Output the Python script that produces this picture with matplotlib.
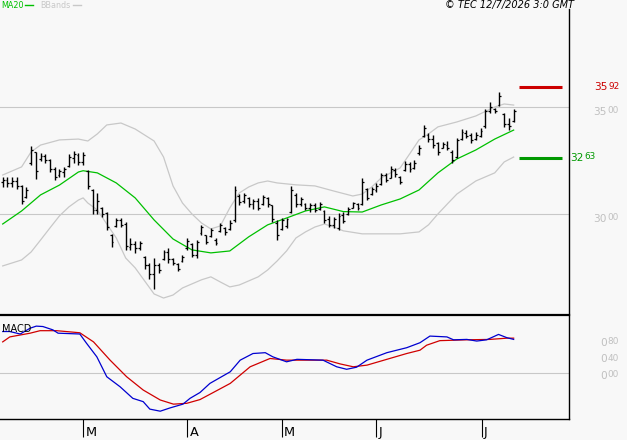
import matplotlib
matplotlib.use('Agg')
import matplotlib.pyplot as plt
from matplotlib.lines import Line2D
import numpy as np

# daily OHLC bars
high = [3174, 3174, 3173, 3173, 3136, 3126, 3318, 3290, 3285, 3280,
        3257, 3220, 3210, 3220, 3280, 3294, 3285, 3290, 3206, 3117,
        3098, 3033, 3009, 2907, 2981, 2981, 2963, 2888, 2875, 2874,
        2804, 2771, 2794, 2771, 2832, 2841, 2794, 2771, 2808, 2888,
        2864, 2879, 2949, 2902, 2935, 2888, 2958, 2939, 2972, 3131,
        3093, 3098, 3079, 3070, 3075, 3089, 3079, 3042, 2972, 2981,
        2981, 3131, 3098, 3079, 3051, 3051, 3051, 3056, 3019, 2991,
        2986, 3005, 3009, 3033, 3056, 3051, 3168, 3121, 3126, 3145,
        3192, 3192, 3224, 3215, 3178, 3248, 3243, 3252, 3322, 3416,
        3378, 3369, 3336, 3336, 3341, 3299, 3355, 3397, 3393, 3378,
        3383, 3402, 3491, 3523, 3495, 3570, 3472, 3449, 3491]
low = [3128, 3128, 3126, 3117, 3047, 3075, 3229, 3164, 3248, 3238,
       3196, 3159, 3173, 3173, 3220, 3238, 3229, 3229, 3117, 3000,
       3000, 2986, 2925, 2846, 2939, 2939, 2832, 2832, 2818, 2832,
       2743, 2696, 2650, 2724, 2785, 2771, 2762, 2734, 2776, 2832,
       2799, 2794, 2902, 2860, 2893, 2855, 2916, 2902, 2925, 2963,
       3042, 3051, 3033, 3023, 3019, 3042, 3033, 2963, 2879, 2925,
       2935, 3005, 3033, 3037, 3019, 3009, 3009, 3019, 2958, 2939,
       2935, 2925, 2958, 2995, 3028, 3019, 3042, 3065, 3089, 3103,
       3135, 3150, 3168, 3173, 3140, 3201, 3196, 3210, 3276, 3360,
       3336, 3308, 3276, 3308, 3299, 3238, 3262, 3346, 3355, 3332,
       3346, 3360, 3402, 3472, 3472, 3505, 3407, 3393, 3430]
opn = [3150, 3160, 3145, 3155, 3130, 3080, 3240, 3290, 3255, 3270,
       3250, 3210, 3180, 3195, 3225, 3260, 3275, 3245, 3200, 3110,
       3020, 3030, 3005, 2900, 2945, 2970, 2955, 2845, 2860, 2840,
       2800, 2760, 2720, 2760, 2790, 2820, 2790, 2765, 2780, 2840,
       2860, 2810, 2910, 2900, 2895, 2880, 2920, 2935, 2930, 2970,
       3085, 3060, 3075, 3045, 3060, 3045, 3075, 3040, 2960, 2930,
       2945, 3010, 3090, 3045, 3045, 3030, 3040, 3025, 3015, 2975,
       2950, 2935, 2995, 3000, 3030, 3045, 3045, 3115, 3095, 3110,
       3140, 3180, 3170, 3205, 3175, 3205, 3235, 3215, 3285, 3365,
       3370, 3350, 3330, 3310, 3320, 3290, 3265, 3350, 3380, 3370,
       3350, 3365, 3410, 3480, 3490, 3510, 3465, 3420, 3435]
close = [3160, 3145, 3155, 3130, 3060, 3110, 3300, 3200, 3270, 3250,
         3210, 3175, 3200, 3210, 3265, 3280, 3245, 3275, 3130, 3020,
         3060, 3000, 2940, 2870, 2970, 2950, 2850, 2860, 2840, 2865,
         2760, 2720, 2760, 2740, 2820, 2790, 2770, 2745, 2800, 2875,
         2810, 2870, 2940, 2870, 2925, 2865, 2950, 2915, 2960, 3110,
         3055, 3090, 3045, 3060, 3030, 3080, 3045, 2975, 2900, 2970,
         2975, 3110, 3045, 3070, 3030, 3040, 3020, 3045, 2970, 2950,
         2975, 2990, 2965, 3025, 3050, 3030, 3150, 3075, 3115, 3130,
         3180, 3160, 3210, 3185, 3150, 3235, 3210, 3240, 3310, 3400,
         3350, 3320, 3290, 3325, 3310, 3250, 3345, 3385, 3365, 3345,
         3370, 3390, 3480, 3500, 3480, 3550, 3420, 3410, 3480]

# moving average 20 and bollinger bands (bar index, value)
ma_idx = [0, 4, 8, 12, 16, 17, 20, 24, 28, 32, 36, 40, 44, 48, 52, 56, 60, 64,
          68, 72, 76, 80, 84, 88, 92, 96, 100, 104, 108]
ma20 = [2953, 3014, 3089, 3135, 3196, 3202, 3192, 3145, 3075, 2972, 2883, 2832,
        2818, 2827, 2893, 2949, 2981, 3014, 3033, 3011, 3009, 3042, 3070, 3112,
        3192, 3257, 3299, 3350, 3392]
bb_up_idx = [0, 4, 6, 8, 12, 16, 18, 20, 22, 25, 28, 32, 34, 36, 38, 40, 42, 44,
             46, 48, 50, 52, 54, 56, 58, 62, 66, 70, 74, 76, 78, 80, 82, 84, 86,
             88, 90, 92, 96, 100, 104, 106, 108]
bb_up = [3182, 3220, 3290, 3322, 3346, 3350, 3341, 3374, 3416, 3425, 3397, 3341,
         3266, 3131, 3051, 3000, 2958, 2930, 2944, 3028, 3098, 3126, 3145, 3154,
         3145, 3136, 3131, 3107, 3084, 3093, 3126, 3168, 3192, 3215, 3280, 3346,
         3374, 3407, 3430, 3458, 3500, 3514, 3509]
bb_lo_idx = [0, 4, 6, 8, 10, 12, 14, 16, 17, 18, 20, 22, 24, 26, 28, 30, 32, 34,
             36, 38, 42, 44, 46, 48, 50, 52, 54, 56, 58, 60, 62, 64, 66, 68, 70,
             72, 76, 80, 84, 88, 90, 92, 94, 96, 100, 104, 106, 108]
bb_lo = [2757, 2785, 2822, 2878, 2935, 2991, 3033, 3065, 3075, 3051, 3019, 2953,
         2888, 2794, 2748, 2687, 2626, 2607, 2621, 2654, 2692, 2706, 2682, 2659,
         2668, 2687, 2706, 2738, 2780, 2827, 2888, 2916, 2939, 2953, 2939, 2921,
         2907, 2907, 2907, 2916, 2949, 3000, 3047, 3093, 3154, 3192, 3243, 3266]

# MACD and signal
macd_idx = [0, 1.5, 3.7, 5.8, 7.1, 8.5, 10.6, 11.7, 16.3, 17.7, 19.9, 22, 24.8,
            27.5, 29.7, 31.1, 33.3, 35.4, 38.1, 39.6, 41.7, 43.8, 48.1, 50.2,
            52.9, 55.5, 57.1, 60, 62.2, 67.7, 70.6, 72.7, 74.8, 77, 81.2, 85.4,
            88.2, 90.3, 93.9, 95.3, 98.1, 100.2, 102.3, 104.8, 106.6, 108]
macd = [1.00, 1.00, 0.94, 1.08, 1.13, 1.12, 1.04, 0.96, 0.94, 0.72, 0.39, -0.09,
        -0.33, -0.61, -0.69, -0.87, -0.92, -0.84, -0.75, -0.61, -0.47, -0.25,
        0.03, 0.31, 0.47, 0.49, 0.39, 0.27, 0.33, 0.31, 0.15, 0.09, 0.14, 0.31,
        0.49, 0.61, 0.73, 0.89, 0.87, 0.80, 0.81, 0.77, 0.80, 0.93, 0.85, 0.81]
sig_idx = [0, 1.5, 5.8, 7.9, 11.4, 16.3, 19.2, 22.7, 26.2, 29.7, 33.3, 36.1,
           38.9, 41.7, 44.5, 48.1, 52.3, 56.5, 60, 68.5, 71.3, 74.1, 77, 81.2,
           85.4, 88.2, 89.6, 92.4, 98.1, 103, 106.6, 108]
signal = [0.75, 0.87, 0.96, 1.02, 1.02, 0.97, 0.75, 0.31, -0.09, -0.41, -0.65,
          -0.75, -0.73, -0.64, -0.47, -0.25, 0.15, 0.35, 0.31, 0.31, 0.22, 0.15,
          0.19, 0.33, 0.47, 0.55, 0.67, 0.78, 0.80, 0.81, 0.84, 0.84]

month_pos = [17, 39, 59, 79, 101.3]
month_lbl = ['M', 'A', 'M', 'J', 'J']
level_hi = 3592
level_lo = 3263
price_grid = [3500, 3000]
macd_ticks = [0.8, 0.4, 0.0]

BG = '#f8f8f8'
GRID = '#c8c8c8'
GREEN = '#00c000'

W, H = 627, 440
fig = plt.figure(figsize=(W / 100, H / 100), dpi=100, facecolor=BG)
ax = fig.add_axes([0, 1 - 314.5 / H, 569 / W, 314.5 / H], facecolor=BG)
ax2 = fig.add_axes([0, 1 - 419 / H, 569 / W, 104 / H], facecolor=BG)

xlim = (-0.57, 119.7)

# price panel
idx = np.arange(len(high))
for g in price_grid:
    ax.axhline(g, color=GRID, lw=0.8, zorder=0)
ax.plot(bb_up_idx, bb_up, color=GRID, lw=0.9)
ax.plot(bb_lo_idx, bb_lo, color=GRID, lw=0.9)
ax.plot(ma_idx, ma20, color=GREEN, lw=0.9)
ax.vlines(idx, low, high, color='black', lw=1.0)
ax.hlines(opn, idx - 0.4, idx, color='black', lw=0.9)
ax.hlines(close, idx, idx + 0.4, color='black', lw=0.9)
ax.hlines(level_hi, 109.2, 118.2, color='#cc0000', lw=2.2)
ax.hlines(level_lo, 109.2, 118.2, color='#009900', lw=2.2)
ax.set_xlim(*xlim)
ax.set_ylim(2530, 4000)
ax.set_xticks([])
ax.set_yticks([])
for s in ['top', 'left', 'bottom']:
    ax.spines[s].set_visible(False)
ax.spines['right'].set_linewidth(1.0)
ax.spines['right'].set_bounds(2530, 3958)


def split_label(a, y, big, small, color, dx, dy=0.0):
    a.annotate(big, xy=(1, y), xycoords=('axes fraction', 'data'),
               xytext=(dx, dy), textcoords='offset points', fontsize=7.6,
               color=color, va='center', ha='left', annotation_clip=False)
    w = 0.636 * 7.6 * len(big) + 0.5
    a.annotate(small, xy=(1, y), xycoords=('axes fraction', 'data'),
               xytext=(dx + w, dy + 0.9), textcoords='offset points', fontsize=6.4,
               color=color, va='center', ha='left', annotation_clip=False)


for g in price_grid:
    s = str(g)
    split_label(ax, g, s[:2], s[2:], '#c0c0c0', 17.3, -3.6)
split_label(ax, level_hi, str(level_hi)[:2], str(level_hi)[2:], '#cc0000', 18.0)
split_label(ax, level_lo, str(level_lo)[:2], str(level_lo)[2:], '#009900', 0.8)

# MACD panel
ax2.axhline(0, color=GRID, lw=0.8, zorder=0)
ax2.plot(sig_idx, signal, color='#d00000', lw=0.9)
ax2.plot(macd_idx, macd, color='#0000d0', lw=0.9)
ax2.set_xlim(*xlim)
ax2.set_ylim(-1.108, 1.398)
ax2.set_yticks([])
ax2.set_xticks(month_pos)
ax2.set_xticklabels([])
ax2.tick_params(axis='x', direction='out', length=12.6, width=0.8, color='black')
ax2.spines['left'].set_visible(False)
ax2.spines['top'].set_linewidth(1.6)
ax2.spines['right'].set_linewidth(1.0)
ax2.spines['bottom'].set_linewidth(1.0)
for p, lbl in zip(month_pos, month_lbl):
    ax2.annotate(lbl, xy=(p, 0), xycoords=('data', 'axes fraction'),
                 xytext=(1.6, -12.4), textcoords='offset points', fontsize=9.3,
                 va='baseline', ha='left', annotation_clip=False)
for t in macd_ticks:
    s = '%.2f' % t
    split_label(ax2, t, s[0], s[2:], '#c0c0c0', 22.5, -2.2)
ax2.text(0.004, 0.87, 'MACD', transform=ax2.transAxes, fontsize=7,
         va='center', ha='left')

# header texts
fig.text(1 / W, 1 - 5 / H, 'MA20', color=GREEN, fontsize=5.8, va='center', ha='left')
fig.add_artist(Line2D([25 / W, 33 / W], [1 - 4.7 / H] * 2, color=GREEN, lw=1.0))
fig.text(40.5 / W, 1 - 5 / H, 'BBands', color=GRID, fontsize=5.8, va='center', ha='left')
fig.add_artist(Line2D([72.5 / W, 80.5 / W], [1 - 4.7 / H] * 2, color=GRID, lw=1.0))
fig.text(574 / W, 1 - 5 / H, '\u00a9 TEC 12/7/2026 3:0 GMT', fontsize=7,
         style='italic', va='center', ha='right')

fig.savefig('out.png', dpi=100, facecolor=BG)
plt.close(fig)
